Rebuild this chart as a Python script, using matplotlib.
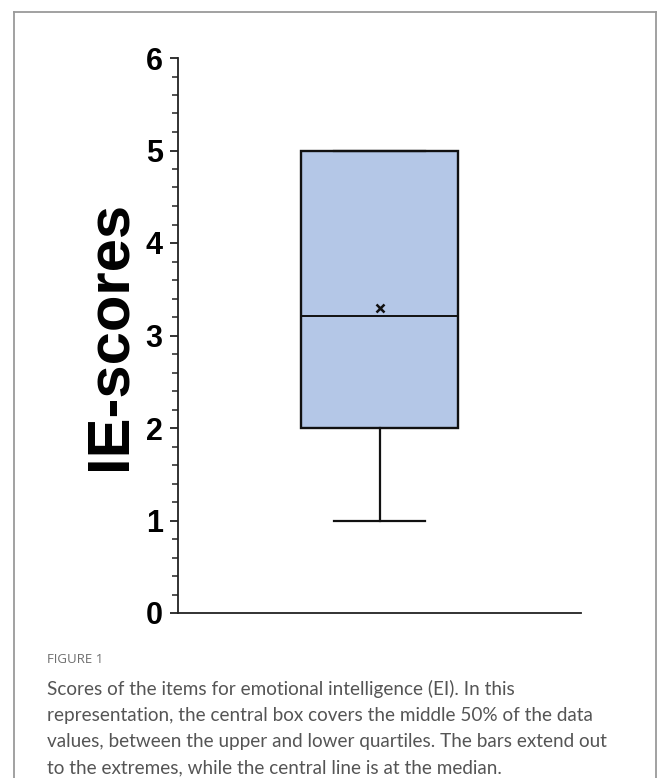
import matplotlib
matplotlib.use("Agg")
import matplotlib.pyplot as plt
from matplotlib.lines import Line2D
from matplotlib.ticker import MultipleLocator

# Data
category = ["EI"]
whisker_low = [1.0]
q1 = [2.0]
median = [3.21]
q3 = [5.0]
whisker_high = [5.0]
mean = [3.3]
y_ticks = [0, 1, 2, 3, 4, 5, 6]
y_label = "IE-scores"
caption_title = "FIGURE 1"
caption_lines = [
    "Scores of the items for emotional intelligence (EI). In this",
    "representation, the central box covers the middle 50% of the data",
    "values, between the upper and lower quartiles. The bars extend out",
    "to the extremes, while the central line is at the median.",
]

W, H = 657, 778
fig = plt.figure(figsize=(W / 100, H / 100), dpi=100)
fig.patch.set_facecolor("white")

ax = fig.add_axes([178 / W, 1 - 613 / H, (581 - 178) / W, (613 - 58) / H])

stats = [dict(label=category[i], whislo=whisker_low[i], q1=q1[i], med=median[i],
              q3=q3[i], whishi=whisker_high[i], mean=mean[i])
         for i in range(len(category))]
ax.bxp(stats, positions=[1], widths=0.775, patch_artist=True, showmeans=True,
       showfliers=False,
       boxprops=dict(facecolor="#b4c7e7", edgecolor="#111111", linewidth=1.7),
       medianprops=dict(color="#111111", linewidth=1.4),
       whiskerprops=dict(color="#111111", linewidth=1.6),
       capprops=dict(color="#111111", linewidth=1.6),
       capwidths=0.45,
       meanprops=dict(marker="x", markeredgecolor="#111111", markersize=6,
                      markeredgewidth=1.8))

ax.set_xlim(0, 2)
ax.set_ylim(0, 6)
ax.set_xticks([])
ax.set_yticks(y_ticks)
ax.yaxis.set_minor_locator(MultipleLocator(0.2))
for s in ["top", "right"]:
    ax.spines[s].set_visible(False)
for s in ["left", "bottom"]:
    ax.spines[s].set_linewidth(1.3)
    ax.spines[s].set_color("#222222")
ax.tick_params(axis="y", which="major", length=6, width=1.3, color="#222222",
               pad=5)
ax.tick_params(axis="y", which="minor", length=4, width=1.1, color="#222222")
for lab in ax.get_yticklabels():
    lab.set_fontfamily("Liberation Sans")
    lab.set_fontweight("bold")
    lab.set_fontsize(22)
ax.set_ylabel(y_label, fontfamily="Liberation Sans", fontweight="bold",
              fontsize=43, labelpad=6)

# Frame border
bc = "#9a9a9a"
fig.add_artist(Line2D([14 / W, 14 / W], [0, 1 - 12 / H], transform=fig.transFigure,
                      color=bc, linewidth=1.3))
fig.add_artist(Line2D([14 / W, 655.5 / W], [1 - 12 / H, 1 - 12 / H],
                      transform=fig.transFigure, color=bc, linewidth=1.3))
fig.add_artist(Line2D([655.5 / W, 655.5 / W], [0, 1 - 12 / H],
                      transform=fig.transFigure, color=bc, linewidth=1.3))

# Caption
fig.text(47 / W, 1 - 663 / H, caption_title, fontfamily="Open Sans",
         fontsize=9.5, color="#6e6e6e", va="baseline")
for i, line in enumerate(caption_lines):
    fig.text(47 / W, 1 - (695 + 26 * i) / H, line, fontfamily="Lato",
             fontsize=13.6, color="#555555", va="baseline")

fig.savefig("out.png", dpi=100)
